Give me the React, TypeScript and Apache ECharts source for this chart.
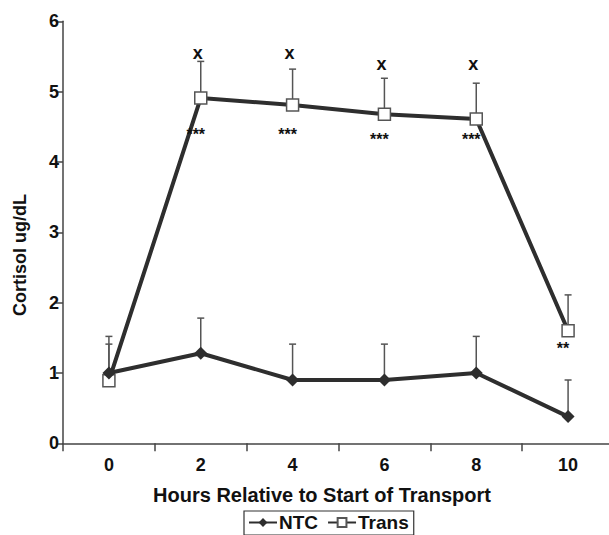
import React, { useEffect, useRef } from "react";
import * as echarts from "echarts";

// ---- data ----
const hours = ["0", "2", "4", "6", "8", "10"];
const ntc = [1.0, 1.28, 0.9, 0.9, 1.0, 0.38];
const ntcErrTop = [1.52, 1.78, 1.41, 1.41, 1.52, 0.9];
const trans = [0.89, 4.91, 4.81, 4.68, 4.61, 1.6];
const transErrTop = [1.41, 5.43, 5.32, 5.19, 5.12, 2.11];
// annotations (text and the y value at which each sits)
const transAbove = ["", "x", "x", "x", "x", ""];
const transAboveAt = [0, 5.55, 5.55, 5.4, 5.4, 0];
const transBelow = ["", "***", "***", "***", "***", "**"];
const transBelowAt = [0, 4.45, 4.45, 4.38, 4.38, 1.4];
const yTicks = { min: 0, max: 6, interval: 1 };

const FONT = '"Liberation Sans", Arial, sans-serif';
const LINE = "#2e2e2e";
const ERR = "#555";

function errorSeries(name: string, values: number[], tops: number[], z: number) {
  return {
    type: "custom",
    name,
    z,
    silent: true,
    data: values.map((v, i) => [i, v, tops[i]]),
    encode: { x: 0, y: [1, 2] },
    renderItem: (params: any, api: any) => {
      const i = api.value(0);
      const base = api.coord([i, api.value(1)]);
      const top = api.coord([i, api.value(2)]);
      const half = 3.5;
      return {
        type: "group",
        children: [
          {
            type: "line",
            shape: { x1: base[0], y1: base[1], x2: top[0], y2: top[1] },
            style: { stroke: ERR, lineWidth: 1.5 },
          },
          {
            type: "line",
            shape: { x1: top[0] - half, y1: top[1], x2: top[0] + half, y2: top[1] },
            style: { stroke: ERR, lineWidth: 1.5 },
          },
        ],
      };
    },
  };
}

function textSeries(
  name: string,
  labels: string[],
  at: number[],
  size: number,
  dx: number,
  dy: number
) {
  const items = labels
    .map((t, i) => (t ? [i, at[i]] : null))
    .filter((d) => d !== null);
  return {
    type: "custom",
    name,
    z: 10,
    silent: true,
    data: items,
    encode: { x: 0, y: 1 },
    renderItem: (params: any, api: any) => {
      const i = api.value(0);
      const p = api.coord([i, api.value(1)]);
      return {
        type: "text",
        x: p[0] + dx,
        y: p[1] + dy,
        style: {
          text: labels[i],
          fill: "#111",
          fontSize: size,
          fontWeight: "bold",
          fontFamily: FONT,
          align: "center",
          verticalAlign: "middle",
        },
      };
    },
  };
}

export default function App() {
  const ref = useRef<HTMLDivElement>(null);

  useEffect(() => {
    if (!ref.current) return;
    const chart = echarts.init(ref.current, null, { renderer: "svg" });
    chart.setOption({
      animation: false,
      backgroundColor: "#fff",
      grid: {
        left: 63,
        right: -5,
        top: 21.3,
        bottom: 91.7,
        containLabel: false,
        outerBoundsMode: "none",
      },
      xAxis: {
        type: "category",
        data: hours,
        boundaryGap: true,
        axisLine: { show: true, lineStyle: { color: "#444", width: 1.5 } },
        axisTick: { show: true, length: 8, alignWithLabel: false, lineStyle: { color: "#444", width: 1.5 } },
        axisLabel: {
          margin: 13,
          color: "#111",
          fontSize: 18,
          fontWeight: "bold",
          fontFamily: FONT,
        },
        splitLine: { show: false },
      },
      yAxis: {
        type: "value",
        min: yTicks.min,
        max: yTicks.max,
        interval: yTicks.interval,
        axisLine: { show: true, lineStyle: { color: "#444", width: 1.5 } },
        axisTick: { show: true, length: 7, lineStyle: { color: "#444", width: 1.5 } },
        axisLabel: {
          margin: 4,
          color: "#111",
          fontSize: 18,
          fontWeight: "bold",
          fontFamily: FONT,
        },
        splitLine: { show: false },
      },
      legend: {
        data: ["NTC", "Trans"],
        left: 244,
        top: 511,
        orient: "horizontal",
        borderColor: "#333",
        borderWidth: 1.2,
        padding: [2, 5, 3, 4],
        itemWidth: 28,
        itemHeight: 11,
        itemGap: 9,
        textStyle: { color: "#111", fontSize: 19, fontWeight: "bold", fontFamily: FONT, padding: [0, 0, 0, -3] },
      },
      graphic: [
        {
          type: "text",
          x: 20,
          y: 255,
          rotation: Math.PI / 2,
          style: {
            text: "Cortisol ug/dL",
            fill: "#111",
            fontSize: 18,
            fontWeight: "bold",
            fontFamily: FONT,
            align: "center",
            verticalAlign: "middle",
          },
        },
        {
          type: "text",
          x: 322,
          y: 495,
          style: {
            text: "Hours Relative to Start of Transport",
            fill: "#111",
            fontSize: 20,
            fontWeight: "bold",
            fontFamily: FONT,
            align: "center",
            verticalAlign: "middle",
          },
        },
      ],
      series: [
        errorSeries("NTC err", ntc, ntcErrTop, 1),
        errorSeries("Trans err", trans, transErrTop, 1),
        {
          type: "line",
          name: "Trans",
          data: trans,
          z: 3,
          symbol: "rect",
          symbolSize: 12,
          lineStyle: { color: LINE, width: 4 },
          itemStyle: { color: "#fff", borderColor: "#555", borderWidth: 1.5 },
          emphasis: { disabled: true },
        },
        {
          type: "line",
          name: "NTC",
          data: ntc,
          z: 4,
          symbol: "diamond",
          symbolSize: 13,
          lineStyle: { color: LINE, width: 4 },
          itemStyle: { color: LINE },
          emphasis: { disabled: true },
        },
        textSeries("above", transAbove, transAboveAt, 18, -3, 0),
        textSeries("below", transBelow, transBelowAt, 16, -5, 4),
      ],
    });
    return () => chart.dispose();
  }, []);

  return (
    <div
      ref={ref}
      style={{ position: "fixed", left: 0, top: 0, width: 609, height: 535 }}
    />
  );
}
